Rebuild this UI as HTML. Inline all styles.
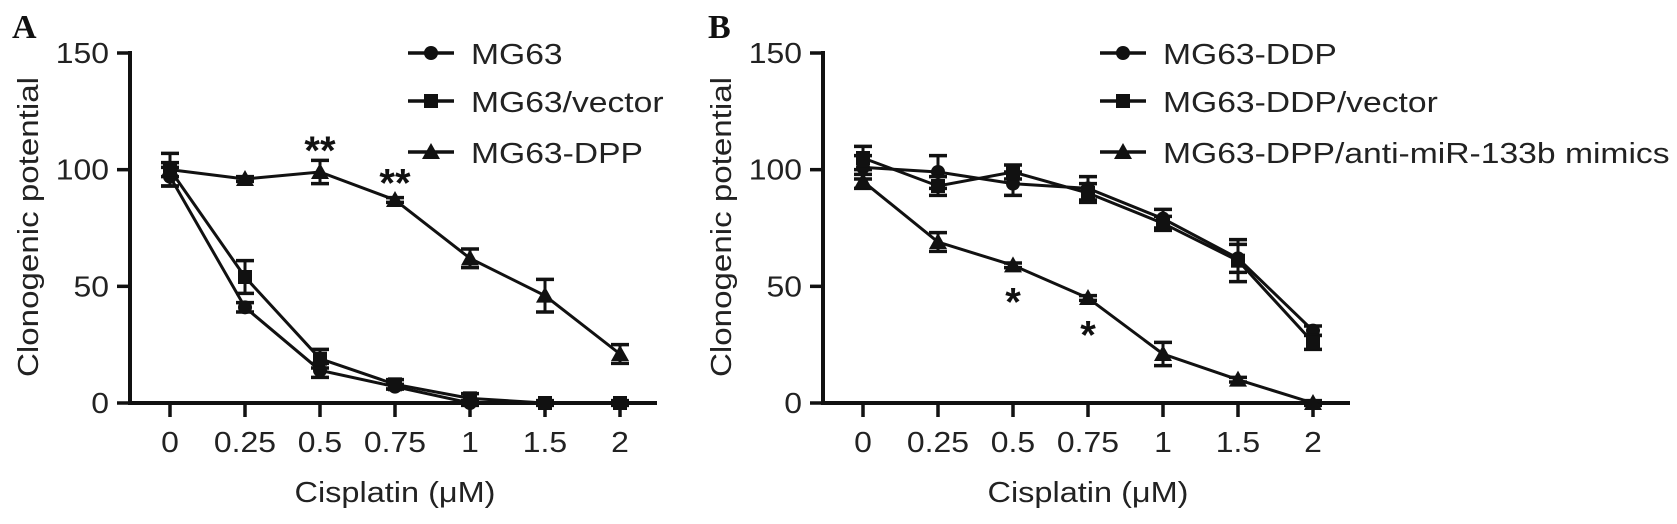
<!DOCTYPE html>
<html><head><meta charset="utf-8"><style>
html,body{margin:0;padding:0;background:#fff;}
svg{display:block;}
text{font-family:"Liberation Sans",sans-serif;fill:#222;}
</style></head><body>
<svg id="fig" width="1677" height="524" viewBox="0 0 1677 524"></svg>
<script>
const categories = ["0","0.25","0.5","0.75","1","1.5","2"];
const yTicks = [0,50,100,150];
// Panel A
const aLabels = ["MG63","MG63/vector","MG63-DPP"];
const aCircle = [97,41,14,7,0,0,0];
const aCircleErr = [4,2,3,1,1,0,0];
const aSquare = [100,54,19,8,2,0,0];
const aSquareErr = [7,7,4,2,2,1,1];
const aTri = [100,96,99,87,62,46,21];
const aTriErr = [3,1,5,1,4,7,4];
// Panel B
const bLabels = ["MG63-DDP","MG63-DDP/vector","MG63-DPP/anti-miR-133b mimics"];
const bCircle = [101,99,94,92,79,62,31];
const bCircleErr = [5,7,5,5,4,6,2];
const bSquare = [105,93,99,90,77,61,26];
const bSquareErr = [5,4,3,4,3,9,3];
const bTri = [95,69,59,45,21,10,0];
const bTriErr = [3,4,1,1,5,1,1];
const aStars = [{cat:2,val:111,txt:"**"},{cat:3,val:97,txt:"**"}];
const bStars = [{cat:2,val:46,txt:"*"},{cat:3,val:32,txt:"*"}];

const NS="http://www.w3.org/2000/svg";
const svg=document.getElementById('fig');
function el(tag,attrs,parent){const e=document.createElementNS(NS,tag);for(const k in attrs)e.setAttribute(k,attrs[k]);(parent||svg).appendChild(e);return e;}
function txt(s,x,y,size,anchor,parent,stretch){const t=el('text',{x:x,y:y,'font-size':size,'text-anchor':anchor||'start'},parent);t.textContent=s;
 if(stretch){const w=t.getComputedTextLength();t.setAttribute('textLength',w*stretch);t.setAttribute('lengthAdjust','spacingAndGlyphs');}return t;}
function marker(type,x,y,g){
 let m;
 if(type==='circle')m=el('circle',{cx:x,cy:y,r:7,fill:'#111'},g);
 else if(type==='square')m=el('rect',{x:x-7,y:y-7,width:14,height:14,fill:'#111'},g);
 else m=el('polygon',{points:`${x},${y-9} ${x+9},${y+7} ${x-9},${y+7}`,fill:'#111'},g);
 return m;
}
function panel(o){
 const g=el('g',{});
 
 
 const y0=403, yScale=v=>y0-v*350/150;
 const xScale=i=>o.ax+40+i*75;
 const L=el('text',{x:o.letterX,y:38,'font-size':34,'font-weight':'bold',style:'font-family:"Liberation Serif",serif;fill:#111'},g);
 L.textContent=o.letter;
 
 
 const ya=el('line',{x1:o.ax,y1:yScale(150)-2,x2:o.ax,y2:y0+2,stroke:'#111','stroke-width':4},g);
 
 
 const xa=el('line',{x1:o.ax-2,y1:y0,x2:o.ax+527,y2:y0,stroke:'#111','stroke-width':4},g);
 
 
 yTicks.forEach(v=>{
  el('line',{x1:o.ax-13,y1:yScale(v),x2:o.ax,y2:yScale(v),stroke:'#111','stroke-width':3.5},g);
  const t=txt(String(v),o.ax-21,yScale(v)+10,29,'end',g,1.1);
  
  
 });
 categories.forEach((c,i)=>{
  el('line',{x1:xScale(i),y1:y0,x2:xScale(i),y2:y0+14,stroke:'#111','stroke-width':3.5},g);
  const t=txt(c,xScale(i),452,29,'middle',g,1.1);
  
  
 });
 const xt=txt('Cisplatin (\u03bcM)',xScale(3),502,29,'middle',g,1.12);
 
 
 const yt=el('text',{x:0,y:0,'font-size':29,'text-anchor':'middle',transform:`translate(${o.ax-92},227) rotate(-90)`,textLength:300,lengthAdjust:'spacingAndGlyphs'},g);
 yt.textContent='Clonogenic potential';
 
 
 o.series.forEach((s,si)=>{
  const sg=el('g',{},g);
  
  
  el('polyline',{points:s.vals.map((v,i)=>xScale(i)+','+yScale(v)).join(' '),fill:'none',stroke:'#111','stroke-width':3},sg);
  s.vals.forEach((v,i)=>{
   const e=s.err[i];
   if(e>0.5){
    el('line',{x1:xScale(i),y1:yScale(v+e),x2:xScale(i),y2:yScale(v-e),stroke:'#111','stroke-width':3},sg);
    el('line',{x1:xScale(i)-9,y1:yScale(v+e),x2:xScale(i)+9,y2:yScale(v+e),stroke:'#111','stroke-width':3.5},sg);
    el('line',{x1:xScale(i)-9,y1:yScale(v-e),x2:xScale(i)+9,y2:yScale(v-e),stroke:'#111','stroke-width':3.5},sg);
   }
   const m=marker(s.type,xScale(i),yScale(v),sg);
   
   
  });
 });
 o.stars.forEach(st=>{
  const t=el('text',{x:xScale(st.cat),y:yScale(st.val)+20,'font-size':40,'font-weight':'bold','text-anchor':'middle',style:'fill:#111'},g);
  t.textContent=st.txt;
  
  
 });
 o.labels.forEach((lab,i)=>{
  const ly=[53,101,152][i];
  const lg=el('g',{},g);
  
  
  el('line',{x1:o.legX,y1:ly,x2:o.legX+46,y2:ly,stroke:'#111','stroke-width':3.5},lg);
  marker(o.series[i].type,o.legX+23,ly,lg);
  txt(lab,o.legX+63,ly+11,29,'start',lg,1.16);
 });
}
panel({name:'panel-a',letter:'A',letterX:12,ax:130,legX:408,labels:aLabels,stars:aStars,
 series:[{type:'circle',vals:aCircle,err:aCircleErr},{type:'square',vals:aSquare,err:aSquareErr},{type:'triangle',vals:aTri,err:aTriErr}]});
panel({name:'panel-b',letter:'B',letterX:708,ax:823,legX:1100,labels:bLabels,stars:bStars,
 series:[{type:'circle',vals:bCircle,err:bCircleErr},{type:'square',vals:bSquare,err:bSquareErr},{type:'triangle',vals:bTri,err:bTriErr}]});
</script>
</body></html>
